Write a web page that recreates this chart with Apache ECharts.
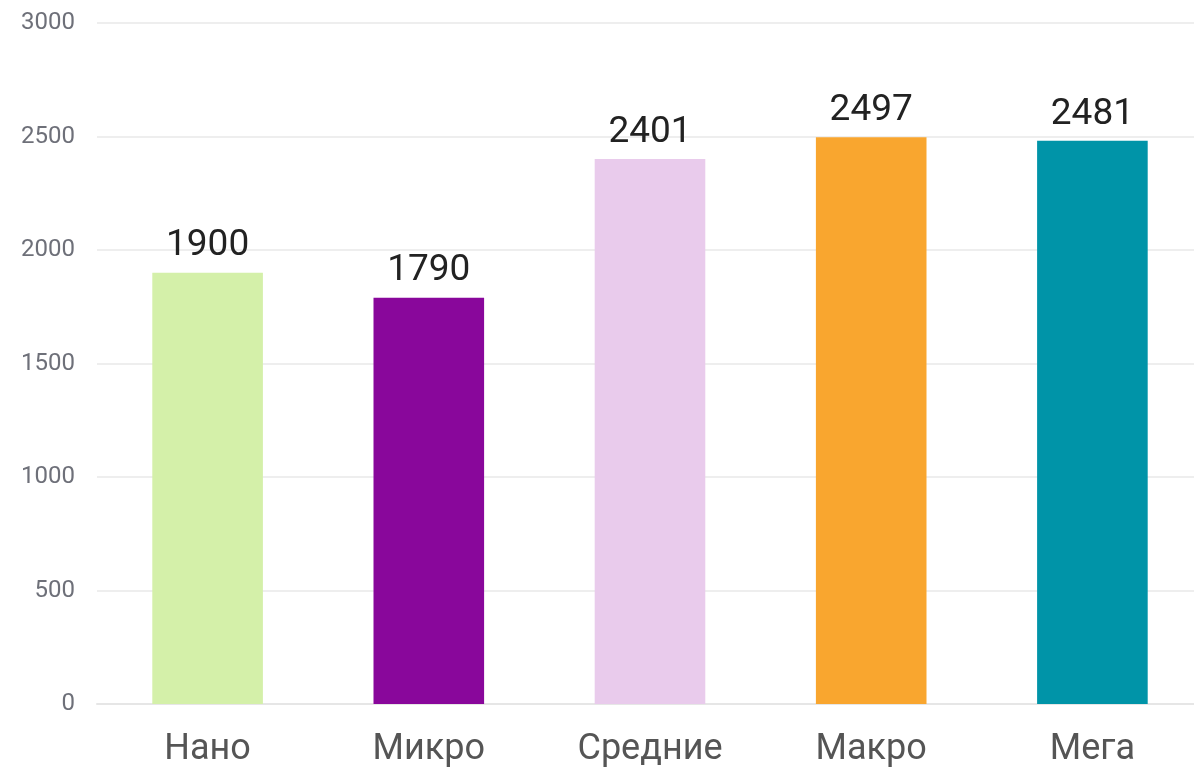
<!DOCTYPE html>
<html>
<head>
<meta charset="utf-8">
<script src="https://cdn.jsdelivr.net/npm/echarts@6/dist/echarts.min.js"></script>
<style>
  html, body { margin: 0; padding: 0; background: #fff; overflow: hidden; }
  /* шире окна: сетка в оригинале уходит за правый край */
  #main { width: 1212px; height: 770px; }
</style>
</head>
<body>
<div id="main"></div>
<script>
// данные
const categories = ['Нано', 'Микро', 'Средние', 'Макро', 'Мега']
const values = [1900, 1790, 2401, 2497, 2481]
const barColors = ['#d4f0a9', '#89079b', '#e9cbec', '#f9a62f', '#0094a8']
const yTicks = [0, 500, 1000, 1500, 2000, 2500, 3000]

const myChart = echarts.init(document.getElementById('main'))

const option = {
  animation: false,
  textStyle: { fontFamily: 'Roboto, "Noto Sans", sans-serif' },
  grid: {
    left: 97,
    top: 23,
    right: 9,
    bottom: 66
  },
  xAxis: {
    type: 'category',
    data: categories,
    axisLine: { lineStyle: { color: '#e6e6e6', width: 2 } },
    axisTick: { length: 14, lineStyle: { color: '#e6e6e6', width: 2 } },
    axisLabel: { color: '#555', fontSize: 36, margin: 28 }
  },
  yAxis: {
    type: 'value',
    min: yTicks[0],
    max: yTicks[yTicks.length - 1],
    interval: 500,
    axisLine: { show: false },
    axisTick: { show: false },
    axisLabel: { color: '#6e7079', fontSize: 24, margin: 22, formatter: v => String(v) },
    splitLine: { lineStyle: { color: '#eeeeee', width: 2 } }
  },
  series: [{
    type: 'bar',
    barWidth: '50%',
    data: values.map((v, i) => ({ value: v, itemStyle: { color: barColors[i] } })),
    label: {
      show: true,
      position: 'top',
      distance: 8,
      color: '#222',
      fontSize: 37
    }
  }]
}

myChart.setOption(option)
</script>
</body>
</html>
